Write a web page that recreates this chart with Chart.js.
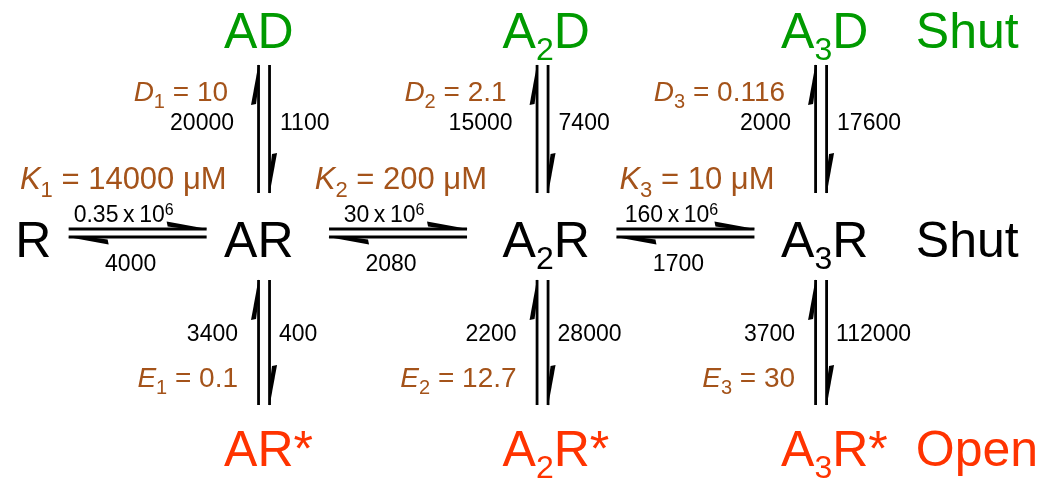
<!DOCTYPE html>
<html lang="en">
<head>
  <meta charset="UTF-8">
  <title>Kinetic scheme</title>
  <script src="https://cdn.jsdelivr.net/npm/chart.js"></script>
  <style>
    html, body { margin: 0; padding: 0; background: #fff; }
    #wrap { width: 1040px; height: 479px; }
  </style>
</head>
<body>
  <div id="wrap"><canvas id="scheme"></canvas></div>

  <script>
    // States ('_' = subscript next char). A = agonist, D = desensitised, * = open
    const shutStates = ['R', 'AR', 'A_2R', 'A_3R'];
    const desStates = ['AD', 'A_2D', 'A_3D'];
    const openStates = ['AR*', 'A_2R*', 'A_3R*'];
    const rowNames = ['Shut', 'Shut', 'Open'];

    // binding steps R -> AR -> A2R -> A3R ('^' = superscript next char)
    const bindOn = ['0.35\u2009x\u200910^6', '30\u2009x\u200910^6', '160\u2009x\u200910^6'];
    const bindOff = ['4000', '2080', '1700'];
    const kValues = ['14000', '200', '10']; // µM

    // desensitisation (up arrow on the left, down arrow on the right)
    const desUp = ['20000', '15000', '2000'];
    const desDown = ['1100', '7400', '17600'];
    const dValues = ['10', '2.1', '0.116'];

    // opening / shutting
    const shutRate = ['3400', '2200', '3700'];
    const openRate = ['400', '28000', '112000'];
    const eValues = ['0.1', '12.7', '30'];

    // grid layout (column / row index of each state)
    const colPos = [0.25, 1, 2, 3];
    const nameCol = 3.34;

    const FONT = '"Liberation Sans", Arial, Helvetica, sans-serif';
    const GREEN = '#009a00', BROWN = '#a4531a', RED = '#ff3300', BLACK = '#000';

    // '%' = italic next char, '_' = subscript, '^' = superscript
    function parse(str) {
      const segs = [];
      let cur = '';
      for (let i = 0; i < str.length; i++) {
        const c = str[i];
        if ((c === '_' || c === '^' || c === '%') && i + 1 < str.length) {
          if (cur) { segs.push({ t: cur, kind: 'n' }); cur = ''; }
          segs.push({ t: str[i + 1], kind: c === '_' ? 'sub' : c === '^' ? 'sup' : 'it' });
          i++;
        } else {
          cur += c;
        }
      }
      if (cur) segs.push({ t: cur, kind: 'n' });
      return segs;
    }

    function fontFor(s, size, subScale) {
      if (s.kind === 'sub') return Math.round(size * subScale) + 'px ' + FONT;
      if (s.kind === 'sup') return Math.round(size * 0.7) + 'px ' + FONT;
      if (s.kind === 'it') return 'italic ' + size + 'px ' + FONT;
      return size + 'px ' + FONT;
    }

    // draws text whose cap-height centre is at cy
    function drawRich(ctx, str, x, cy, size, align, color, subScale) {
      subScale = subScale || 0.64;
      const segs = parse(str);
      let w = 0;
      segs.forEach(s => { ctx.font = fontFor(s, size, subScale); s.w = ctx.measureText(s.t).width; w += s.w; });
      let cx = align === 'left' ? x : align === 'right' ? x - w : x - w / 2;
      const left = cx;
      const base = cy + size * 0.358;
      ctx.fillStyle = color;
      ctx.textAlign = 'left';
      ctx.textBaseline = 'alphabetic';
      segs.forEach(s => {
        ctx.font = fontFor(s, size, subScale);
        const dy = s.kind === 'sub' ? size * 0.24 : s.kind === 'sup' ? -size * 0.33 : 0;
        ctx.fillText(s.t, cx, base + dy);
        cx += s.w;
      });
      return { left: left, right: left + w };
    }

    // line with a half arrowhead (a slim barb) at the end
    function halfArrow(ctx, x1, y1, x2, y2) {
      ctx.beginPath();
      ctx.moveTo(x1, y1);
      ctx.lineTo(x2, y2);
      ctx.stroke();
      const len = Math.hypot(x2 - x1, y2 - y1);
      const ux = (x2 - x1) / len, uy = (y2 - y1) / len;
      const nx = uy, ny = -ux;
      const L = 40, W = 7.5;
      const pt = (a, b) => [x2 - ux * a + nx * b, y2 - uy * a + ny * b];
      const path = [pt(-1, 0), pt(L, W), pt(L - 1, W - 5), pt(L * 0.6, 0.5)];
      ctx.beginPath();
      ctx.moveTo(path[0][0], path[0][1]);
      path.slice(1).forEach(p => ctx.lineTo(p[0], p[1]));
      ctx.closePath();
      ctx.fill();
    }

    const schemePlugin = {
      id: 'scheme',
      afterDatasetsDraw(chart) {
        const ctx = chart.ctx;
        const shut = chart.getDatasetMeta(0).data;
        const des = chart.getDatasetMeta(1).data;
        const open = chart.getDatasetMeta(2).data;
        const names = chart.getDatasetMeta(3).data;
        const BIG = 50, RATE = 23, CONST = 28, KSIZE = 31;
        ctx.save();

        // state names
        const ext = shut.map((p, i) => drawRich(ctx, shutStates[i], p.x - 40, p.y, BIG, 'left', BLACK));
        des.forEach((p, i) => drawRich(ctx, desStates[i], p.x - 40, p.y, BIG, 'left', GREEN));
        open.forEach((p, i) => drawRich(ctx, openStates[i], p.x - 40, p.y, BIG, 'left', RED));
        const nameColors = [GREEN, BLACK, RED];
        names.forEach((p, i) => drawRich(ctx, rowNames[i], p.x, p.y, BIG, 'left', nameColors[i]));

        ctx.strokeStyle = BLACK;
        ctx.lineWidth = 2.8;
        ctx.lineCap = 'butt';

        // binding steps (horizontal)
        for (let i = 0; i < 3; i++) {
          const mid = (ext[i].right + ext[i + 1].left) / 2;
          const y = shut[i].y - 6;
          ctx.fillStyle = BLACK;
          halfArrow(ctx, mid - 69, y - 4, mid + 69, y - 4);
          halfArrow(ctx, mid + 69, y + 4, mid - 69, y + 4);
          drawRich(ctx, bindOn[i], mid - 14, shut[i].y - 25, RATE, 'center', BLACK);
          drawRich(ctx, bindOff[i], mid - 7, shut[i].y + 24, RATE, 'center', BLACK);
          drawRich(ctx, '%K_' + (i + 1) + ' = ' + kValues[i] + ' \u03bcM', mid + 89, shut[i].y - 61, KSIZE, 'right', BROWN, 0.72);
        }

        // desensitisation (up) and opening (down)
        for (let i = 0; i < 3; i++) {
          const x = shut[i + 1].x;
          const top = des[i].y + 35, bot = shut[i + 1].y - 46;
          ctx.fillStyle = BLACK;
          halfArrow(ctx, x - 5.5, bot, x - 5.5, top);
          halfArrow(ctx, x + 5.5, top, x + 5.5, bot);
          const m1 = (top + bot) / 2;
          drawRich(ctx, desUp[i], x - 30, m1 - 7, RATE, 'right', BLACK);
          drawRich(ctx, desDown[i], x + 16, m1 - 7, RATE, 'left', BLACK);
          drawRich(ctx, '%D_' + (i + 1) + ' = ' + dValues[i], x - 36, top + 26, CONST, 'right', BROWN, 0.72);

          const top2 = shut[i + 1].y + 41, bot2 = open[i].y - 43;
          ctx.fillStyle = BLACK;
          halfArrow(ctx, x - 5.5, bot2, x - 5.5, top2);
          halfArrow(ctx, x + 5.5, top2, x + 5.5, bot2);
          const m2 = (top2 + bot2) / 2;
          drawRich(ctx, shutRate[i], x - 26, m2 - 10, RATE, 'right', BLACK);
          drawRich(ctx, openRate[i], x + 15, m2 - 10, RATE, 'left', BLACK);
          drawRich(ctx, '%E_' + (i + 1) + ' = ' + eValues[i], x - 26, bot2 - 28, CONST, 'right', BROWN, 0.72);
        }
        ctx.restore();
      }
    };

    new Chart(document.getElementById('scheme'), {
      type: 'scatter',
      data: {
        datasets: [
          { data: shutStates.map((s, i) => ({ x: colPos[i], y: 1 })) },
          { data: desStates.map((s, i) => ({ x: colPos[i + 1], y: 0 })) },
          { data: openStates.map((s, i) => ({ x: colPos[i + 1], y: 2 })) },
          { data: rowNames.map((s, i) => ({ x: nameCol, y: i })) }
        ]
      },
      options: {
        responsive: true,
        maintainAspectRatio: false,
        animation: false,
        layout: { padding: 0 },
        elements: { point: { radius: 0, hoverRadius: 0 } },
        plugins: { legend: { display: false }, tooltip: { enabled: false } },
        scales: {
          x: { type: 'linear', display: false, min: 0.052, max: 3.786 },
          y: { type: 'linear', display: false, reverse: true, min: -0.1435, max: 2.1483 }
        }
      },
      plugins: [schemePlugin]
    });
  </script>
</body>
</html>
